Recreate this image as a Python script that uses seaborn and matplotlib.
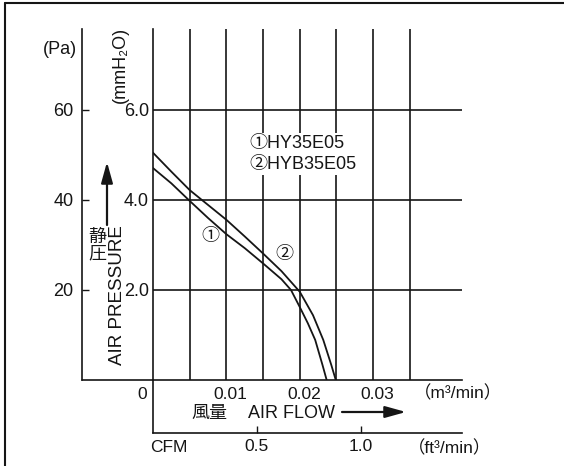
import numpy as np
import pandas as pd
import matplotlib
matplotlib.use('Agg')
import matplotlib.pyplot as plt
import matplotlib.transforms as mtransforms
from matplotlib.lines import Line2D
import seaborn as sns

# P-Q curves (flow in m3/min, pressure in mmH2O)
flow_hy35 = [0, 0.0025, 0.005, 0.0075, 0.01, 0.0125, 0.015, 0.0175, 0.0188, 0.02, 0.0211, 0.0221, 0.0231, 0.02366]
pres_hy35 = [4.71, 4.37, 3.98, 3.60, 3.24, 2.93, 2.59, 2.24, 2.0, 1.62, 1.26, 0.89, 0.33, 0]
flow_hyb35 = [0, 0.0025, 0.005, 0.0075, 0.01, 0.0125, 0.015, 0.0175, 0.02, 0.0218, 0.0232, 0.0243, 0.0249]
pres_hyb35 = [5.05, 4.63, 4.22, 3.89, 3.56, 3.19, 2.81, 2.42, 1.96, 1.44, 0.89, 0.33, 0]
models = ['HY35E05', 'HYB35E05']

# axes / grid values
x_grid = [0.005, 0.01, 0.015, 0.02, 0.025, 0.03, 0.035]
y_grid = [2.0, 4.0, 6.0]
x_ticks = [0, 0.01, 0.02, 0.03]
x_ticklabels = ['0', '0.01', '0.02', '0.03']
y_ticklabels = ['2.0', '4.0', '6.0']
pa_ticks = [20, 40, 60]
cfm_ticks = [0.5, 1.0]
cfm_ticklabels = ['0.5', '1.0']
X_MAX = 0.0421
Y_MAX = 7.8
M3_PER_CFM = 0.0283168

df = pd.concat([
    pd.DataFrame({'flow': flow_hy35, 'pressure': pres_hy35, 'model': models[0]}),
    pd.DataFrame({'flow': flow_hyb35, 'pressure': pres_hyb35, 'model': models[1]}),
])

sns.set_style('white')
plt.rcParams['font.family'] = ['Liberation Sans', 'Noto Sans CJK JP', 'DejaVu Sans']
plt.rcParams['font.size'] = 13

W, H = 564, 466
fig = plt.figure(figsize=(W / 100, H / 100), dpi=100)


def fx(px):
    return px / W


def fy(py):
    return 1 - py / H


ax = fig.add_axes([fx(153), fy(380), 309 / W, 351 / H])
ax.set_xlim(0, X_MAX)
ax.set_ylim(0, Y_MAX)

ink = '#151515'
ax.vlines(x_grid, 0, Y_MAX, color=ink, lw=1.2, zorder=1)
ax.hlines(y_grid, 0, X_MAX, color=ink, lw=1.2, zorder=1)

sns.lineplot(data=df, x='flow', y='pressure', hue='model', palette=[ink, ink],
             sort=False, estimator=None, legend=False, lw=1.3, ax=ax, zorder=3)
ax.set_xlabel('')
ax.set_ylabel('')

for s in ['top', 'right']:
    ax.spines[s].set_visible(False)
for s in ['left', 'bottom']:
    ax.spines[s].set_color(ink)
    ax.spines[s].set_linewidth(1.2)

ax.set_yticks(y_grid, labels=y_ticklabels)
ax.tick_params(axis='y', length=3, width=1, pad=0, labelsize=13, colors=ink)
ax.set_xticks(x_ticks, labels=x_ticklabels)
ax.tick_params(axis='x', length=0, pad=5, labelsize=12.5, colors=ink)
for lab in ax.get_xticklabels():
    dx = -11 if lab.get_text() == '0' else 4
    lab.set_transform(lab.get_transform() + mtransforms.ScaledTranslation(dx / 100, 0, fig.dpi_scale_trans))

# Pa axis on the far left
pa_loc = (82 - 153) / 309
sec = ax.secondary_yaxis(pa_loc, functions=(lambda y: y * 10, lambda p: p / 10))
sec.set_yticks(pa_ticks)
sec.tick_params(direction='in', length=5, width=1, pad=6, labelsize=13, colors=ink)
sec.spines['left'].set_color(ink)
sec.spines['left'].set_linewidth(1.2)

# CFM axis below
cfm_loc = -53 / 351
secx = ax.secondary_xaxis(cfm_loc, functions=(lambda q: q / M3_PER_CFM, lambda c: c * M3_PER_CFM))
secx.set_xticks(cfm_ticks, labels=cfm_ticklabels)
secx.tick_params(direction='in', length=5, width=1, pad=4, labelsize=12.5, colors=ink)
secx.spines['bottom'].set_color(ink)
secx.spines['bottom'].set_linewidth(1.2)

# spine extensions
ax.plot([0, 0], [0, cfm_loc], transform=ax.transAxes, clip_on=False, color=ink, lw=1.2)
ax.plot([pa_loc, 0], [0, 0], transform=ax.transAxes, clip_on=False, color=ink, lw=1.2)

# legend block (covers the grid lines behind it)
fig.text(fx(249), fy(154), '①HY35E05\n②HYB35E05', ha='left', va='center', fontsize=13,
         linespacing=1.25, color=ink,
         bbox=dict(facecolor='white', edgecolor='none', pad=2), zorder=5)

# curve labels
fig.text(fx(210), fy(237), '①', ha='center', va='center', fontsize=13, color=ink)
fig.text(fx(284), fy(255), '②', ha='center', va='center', fontsize=13, color=ink)

# axis captions
fig.text(fx(60), fy(50), '(Pa)', ha='center', va='center', fontsize=13, color=ink)
fig.text(fx(120), fy(65), '(mmH₂O)', ha='center', va='center', fontsize=13, rotation=90, color=ink)
fig.text(fx(97), fy(246), '静\n圧', ha='center', va='center', fontsize=13, linespacing=0.95, color=ink)
fig.text(fx(117), fy(295), 'AIR PRESSURE', ha='center', va='center', fontsize=13.5, rotation=90, color=ink)
fig.text(fx(458), fy(393), '（m³/min）', ha='center', va='center', fontsize=12.5, color=ink)
fig.text(fx(209), fy(413), '風量', ha='center', va='center', fontsize=13, color=ink)
fig.text(fx(291), fy(413), 'AIR FLOW', ha='center', va='center', fontsize=13, color=ink)
fig.text(fx(150), fy(448), 'CFM', ha='left', va='center', fontsize=12.5, color=ink)
fig.text(fx(450), fy(448), '（ft³/min）', ha='center', va='center', fontsize=12.5, color=ink)

# arrows
ax.annotate('', xy=(fx(107), fy(162)), xytext=(fx(107), fy(225)), xycoords='figure fraction',
            arrowprops=dict(arrowstyle='-|>,head_length=0.9,head_width=0.25', color=ink, lw=1.6,
                            mutation_scale=14, shrinkA=0, shrinkB=0))
ax.annotate('', xy=(fx(406), fy(412)), xytext=(fx(342), fy(412)), xycoords='figure fraction',
            arrowprops=dict(arrowstyle='-|>,head_length=0.9,head_width=0.25', color=ink, lw=1.6,
                            mutation_scale=14, shrinkA=0, shrinkB=0))

# outer frame (left and top edges)
fig.add_artist(Line2D([fx(5), fx(5)], [0, fy(3)], color=ink, lw=1.5))
fig.add_artist(Line2D([fx(5), 1], [fy(3), fy(3)], color=ink, lw=1.5))

fig.savefig('out.png', dpi=100)
